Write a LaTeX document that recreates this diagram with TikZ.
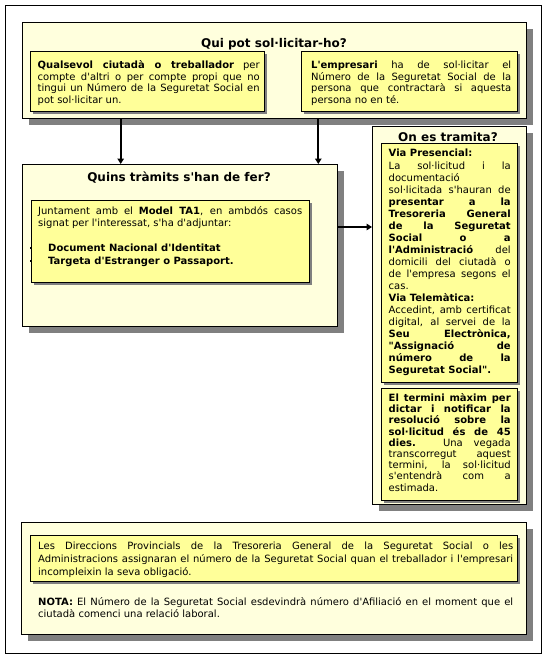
\documentclass[tikz,border=0pt]{standalone}
\usepackage{fontspec}
\setmainfont{DejaVu Sans}[Ligatures=TeXOff]
\usetikzlibrary{arrows.meta,shadows}
\definecolor{cream}{HTML}{FFFFDD}
\definecolor{pale}{HTML}{FFFF99}
\definecolor{shade}{HTML}{808080}
\tolerance=10000
\hyphenpenalty=10000
\exhyphenpenalty=10000
\begin{document}
\begin{tikzpicture}[x=1pt,y=-1pt,
  outerbox/.style={draw=black, line width=1.4pt, fill=cream, anchor=north west, inner sep=0pt,
    general shadow={fill=shade, shadow xshift=6pt, shadow yshift=-6pt}},
  innerbox/.style={draw=black, line width=1.2pt, fill=pale, anchor=north west, inner sep=0pt,
    general shadow={fill=shade, shadow xshift=2.5pt, shadow yshift=-2.5pt}},
  boxtitle/.style={font=\fontsize{12}{14}\selectfont\bfseries, inner sep=0pt, anchor=base},
  para/.style={anchor=base west, inner sep=0pt, align=justify, font=\fontsize{10}{#1}\selectfont},
  para/.default=12,
  flow/.style={line width=2pt, -{Triangle[width=6.5pt,length=5.5pt]}}
]
\useasboundingbox (0,0) rectangle (547,658);
\draw[line width=0.9pt] (5,5) rectangle (541,653);

% outer boxes
\node[outerbox, minimum width=504pt, minimum height=96pt] (qui) at (22,22) {};
\node[outerbox, minimum width=315pt, minimum height=162pt] (quins) at (22,164) {};
\node[outerbox, minimum width=154pt, minimum height=378pt] (on) at (372,126) {};
\node[outerbox, minimum width=505pt, minimum height=112pt] (final) at (21,522) {};

% inner boxes
\node[innerbox, minimum width=234pt, minimum height=60pt] (quiA) at (30,51) {};
\node[innerbox, minimum width=216pt, minimum height=60pt] (quiB) at (301,51) {};
\node[innerbox, minimum width=278pt, minimum height=82pt] (quinsA) at (31,200) {};
\node[innerbox, minimum width=136pt, minimum height=239pt] (onA) at (381,143) {};
\node[innerbox, minimum width=136pt, minimum height=112pt] (onB) at (381,388) {};
\node[innerbox, minimum width=487pt, minimum height=46pt] (finalA) at (30,535) {};

% titles
\node[boxtitle] (quiT) at (274,48) {Qui pot sol·licitar-ho?};
\node[boxtitle] (quinsT) at (179,181) {Quins tràmits s'han de fer?};
\node[boxtitle] (onT) at (448,141) {On es tramita?};

% texts
\node[para=11.5, text width=222pt] (quiAtext) at (37.5,69)
  {\textbf{Qualsevol ciutadà o treballador} per\linebreak compte d'altri o per compte propi que no\linebreak tingui un Número de la Seguretat Social en\linebreak pot sol·licitar un.};
\node[para=11.5, text width=200pt] (quiBtext) at (311,69)
  {\textbf{L'empresari} ha de sol·licitar el\linebreak Número de la Seguretat Social de la\linebreak persona que contractarà si aquesta\linebreak persona no en té.};
\node[para=12, text width=264pt] (quinsAtext) at (38,214.5)
  {Juntament amb el \textbf{Model TA1}, en ambdós casos\linebreak signat per l'interessat, s'ha d'adjuntar:};
\node[para=13, text width=240pt, font=\fontsize{10}{13}\selectfont\bfseries] (quinsAlist) at (48,251)
  {Document Nacional d'Identitat\\ Targeta d'Estranger o Passaport.};
\fill (29.6,247.3) rectangle (30.4,248.5);
\fill (29.6,260.3) rectangle (30.4,261.5);
\node[para=12.05, text width=122pt] (onAtext) at (388.5,157)
  {\textbf{Via Presencial:}\\ La sol·licitud i la\linebreak documentació\\ sol·licitada s'hauran de\linebreak \textbf{presentar a la\linebreak Tresoreria General\linebreak de la Seguretat\linebreak Social o a\linebreak l'Administració} del\linebreak domicili del ciutadà o\linebreak de l'empresa segons el\linebreak cas.\\ \textbf{Via Telemàtica:}\\ Accedint, amb certificat\linebreak digital, al servei de la\linebreak \textbf{Seu Electrònica,\linebreak "Assignació de\linebreak número de la\linebreak Seguretat Social".}};
\node[para=11.2, text width=122pt] (onBtext) at (388.5,401.5)
  {\textbf{El termini màxim per\linebreak dictar i notificar la\linebreak resolució sobre la\linebreak sol·licitud és de 45\linebreak dies.} Una vegada\linebreak transcorregut aquest\linebreak termini, la sol·licitud\linebreak s'entendrà com a\linebreak estimada.};
\node[para=12.8, text width=475pt] (finalAtext) at (38,549.5)
  {Les Direccions Provincials de la Tresoreria General de la Seguretat Social o les\linebreak Administracions assignaran el número de la Seguretat Social quan el treballador i l'empresari\linebreak incompleixin la seva obligació.};
\node[para=12, text width=475pt] (nota) at (38,605.5)
  {\textbf{NOTA:} El Número de la Seguretat Social esdevindrà número d'Afiliació en el moment que el\linebreak ciutadà comenci una relació laboral.};

% connectors
\coordinate (colA) at (120.7,0);
\coordinate (colB) at (318.3,0);
\coordinate (rowC) at (0,227);
\draw[flow] (qui.south -| colA) -- (quins.north -| colA);
\draw[flow] (qui.south -| colB) -- (quins.north -| colB);
\draw[flow] (quins.east |- rowC) -- (on.west |- rowC);
\end{tikzpicture}
\end{document}
